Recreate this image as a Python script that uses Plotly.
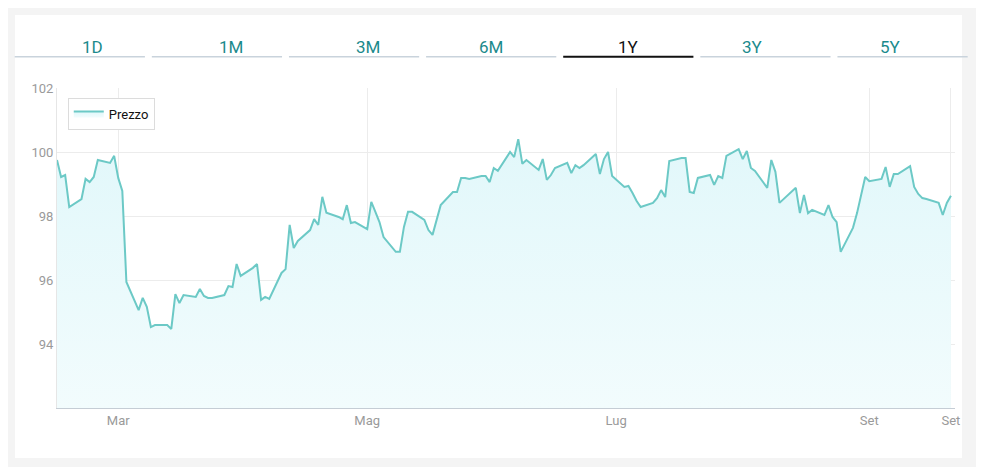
import pandas as pd
import plotly.graph_objects as go

# daily prices, one per business day starting 2023-02-14
prices = [
    99.75, 99.22, 99.28, 98.28, 98.53, 99.16, 99.06, 99.22, 99.75, 99.66,
    99.88, 99.19, 98.78, 95.94, 95.06, 95.44, 95.16, 94.53, 94.59, 94.59,
    94.47, 95.56, 95.28, 95.53, 95.47, 95.72, 95.50, 95.44, 95.44, 95.53,
    95.81, 95.78, 96.50, 96.13, 96.38, 96.50, 95.38, 95.47, 95.41, 96.22,
    96.34, 97.72, 97.00, 97.22, 97.56, 97.90, 97.72, 98.60, 98.10, 97.97,
    97.90, 98.34, 97.78, 97.81, 97.59, 98.44, 98.13, 97.81, 97.34, 96.88,
    96.88, 97.66, 98.13, 98.13, 97.88, 97.56, 97.41, 97.88, 98.34, 98.75,
    98.75, 99.19, 99.19, 99.16, 99.25, 99.25, 99.06, 99.50, 99.41, 100.00,
    99.84, 100.40, 99.63, 99.75, 99.44, 99.78, 99.13, 99.28, 99.50, 99.66,
    99.34, 99.59, 99.50, 99.59, 99.94, 99.31, 99.78, 100.00, 99.25, 98.91,
    98.94, 98.72, 98.47, 98.28, 98.41, 98.56, 98.81, 98.59, 99.72, 99.81,
    99.81, 98.75, 98.72, 99.19, 99.28, 98.97, 99.25, 99.19, 99.88, 100.09,
    99.78, 100.03, 99.50, 99.41, 98.88, 99.75, 99.38, 98.41, 98.53, 98.88,
    98.09, 98.66, 98.09, 98.19, 98.03, 98.34, 97.97, 97.81, 96.88, 97.63,
    98.09, 98.66, 99.22, 99.09, 99.16, 99.53, 98.91, 99.31, 99.31, 99.56,
    98.91, 98.69, 98.56, 98.53, 98.41, 98.03, 98.41, 98.63,
]
dates = pd.bdate_range("2023-02-14", periods=len(prices))

tick_vals = ["2023-03-01", "2023-05-01", "2023-07-01", "2023-09-01", dates[-1]]
tick_text = ["Mar", "Mag", "Lug", "Set", "Set"]

tabs = ["1D", "1M", "3M", "6M", "1Y", "3Y", "5Y"]
tab_sel = "1Y"

fig = go.Figure()
fig.add_trace(go.Scatter(
    x=dates, y=prices, name="Prezzo", mode="lines",
    line=dict(color="#6cc9c6", width=2),
    fill="tozeroy",
    fillgradient=dict(type="vertical", start=92, stop=101,
                      colorscale=[[0, "rgba(242,252,253,1)"], [1, "rgba(224,247,250,1)"]]),
    showlegend=True,
))

# card background + tabs
fig.add_shape(type="rect", xref="paper", yref="paper", x0=-0.0468, x1=1.0078, y0=-0.156, y1=1.228,
              fillcolor="white", line=dict(width=0), layer="below")
for i, t in enumerate(tabs):
    x0 = -0.0471 + i * 0.1527
    x1 = x0 + 0.1450
    sel = t == tab_sel
    fig.add_annotation(xref="paper", yref="paper", x=(x0 + x1) / 2, y=1.165, text=t,
                       showarrow=False, font=dict(size=17, color="#111" if sel else "#1b8a8c",
                                                  family="Roboto"))
    fig.add_shape(type="line", xref="paper", yref="paper", x0=x0, x1=x1, y0=1.0975, y1=1.0975,
                  line=dict(color="#111" if sel else "#c9d3dc", width=2 if sel else 1.5))

fig.update_layout(
    width=984, height=467,
    margin=dict(l=49, r=37, t=80, b=67),
    paper_bgcolor="#f4f4f4", plot_bgcolor="white",
    font=dict(family="Roboto", color="#999"),
    legend=dict(x=0.012, y=0.97, xanchor="left", yanchor="top",
                bgcolor="white", bordercolor="#dcdcdc", borderwidth=1,
                font=dict(size=13, color="#111")),
    xaxis=dict(range=[dates[0], dates[-1] + pd.Timedelta(days=1)],
               tickvals=tick_vals, ticktext=tick_text,
               showgrid=True, gridcolor="#ececec", showline=True, linecolor="#c5cdd5",
               ticks="", tickfont=dict(size=13, color="#9a9a9a")),
    yaxis=dict(range=[92, 102], tickvals=[94, 96, 98, 100, 102],
               showgrid=True, gridcolor="#ececec", showline=True, linecolor="#e6e6e6",
               zeroline=False, ticks="", tickfont=dict(size=13, color="#9a9a9a")),
)

fig.write_html("out.html")
